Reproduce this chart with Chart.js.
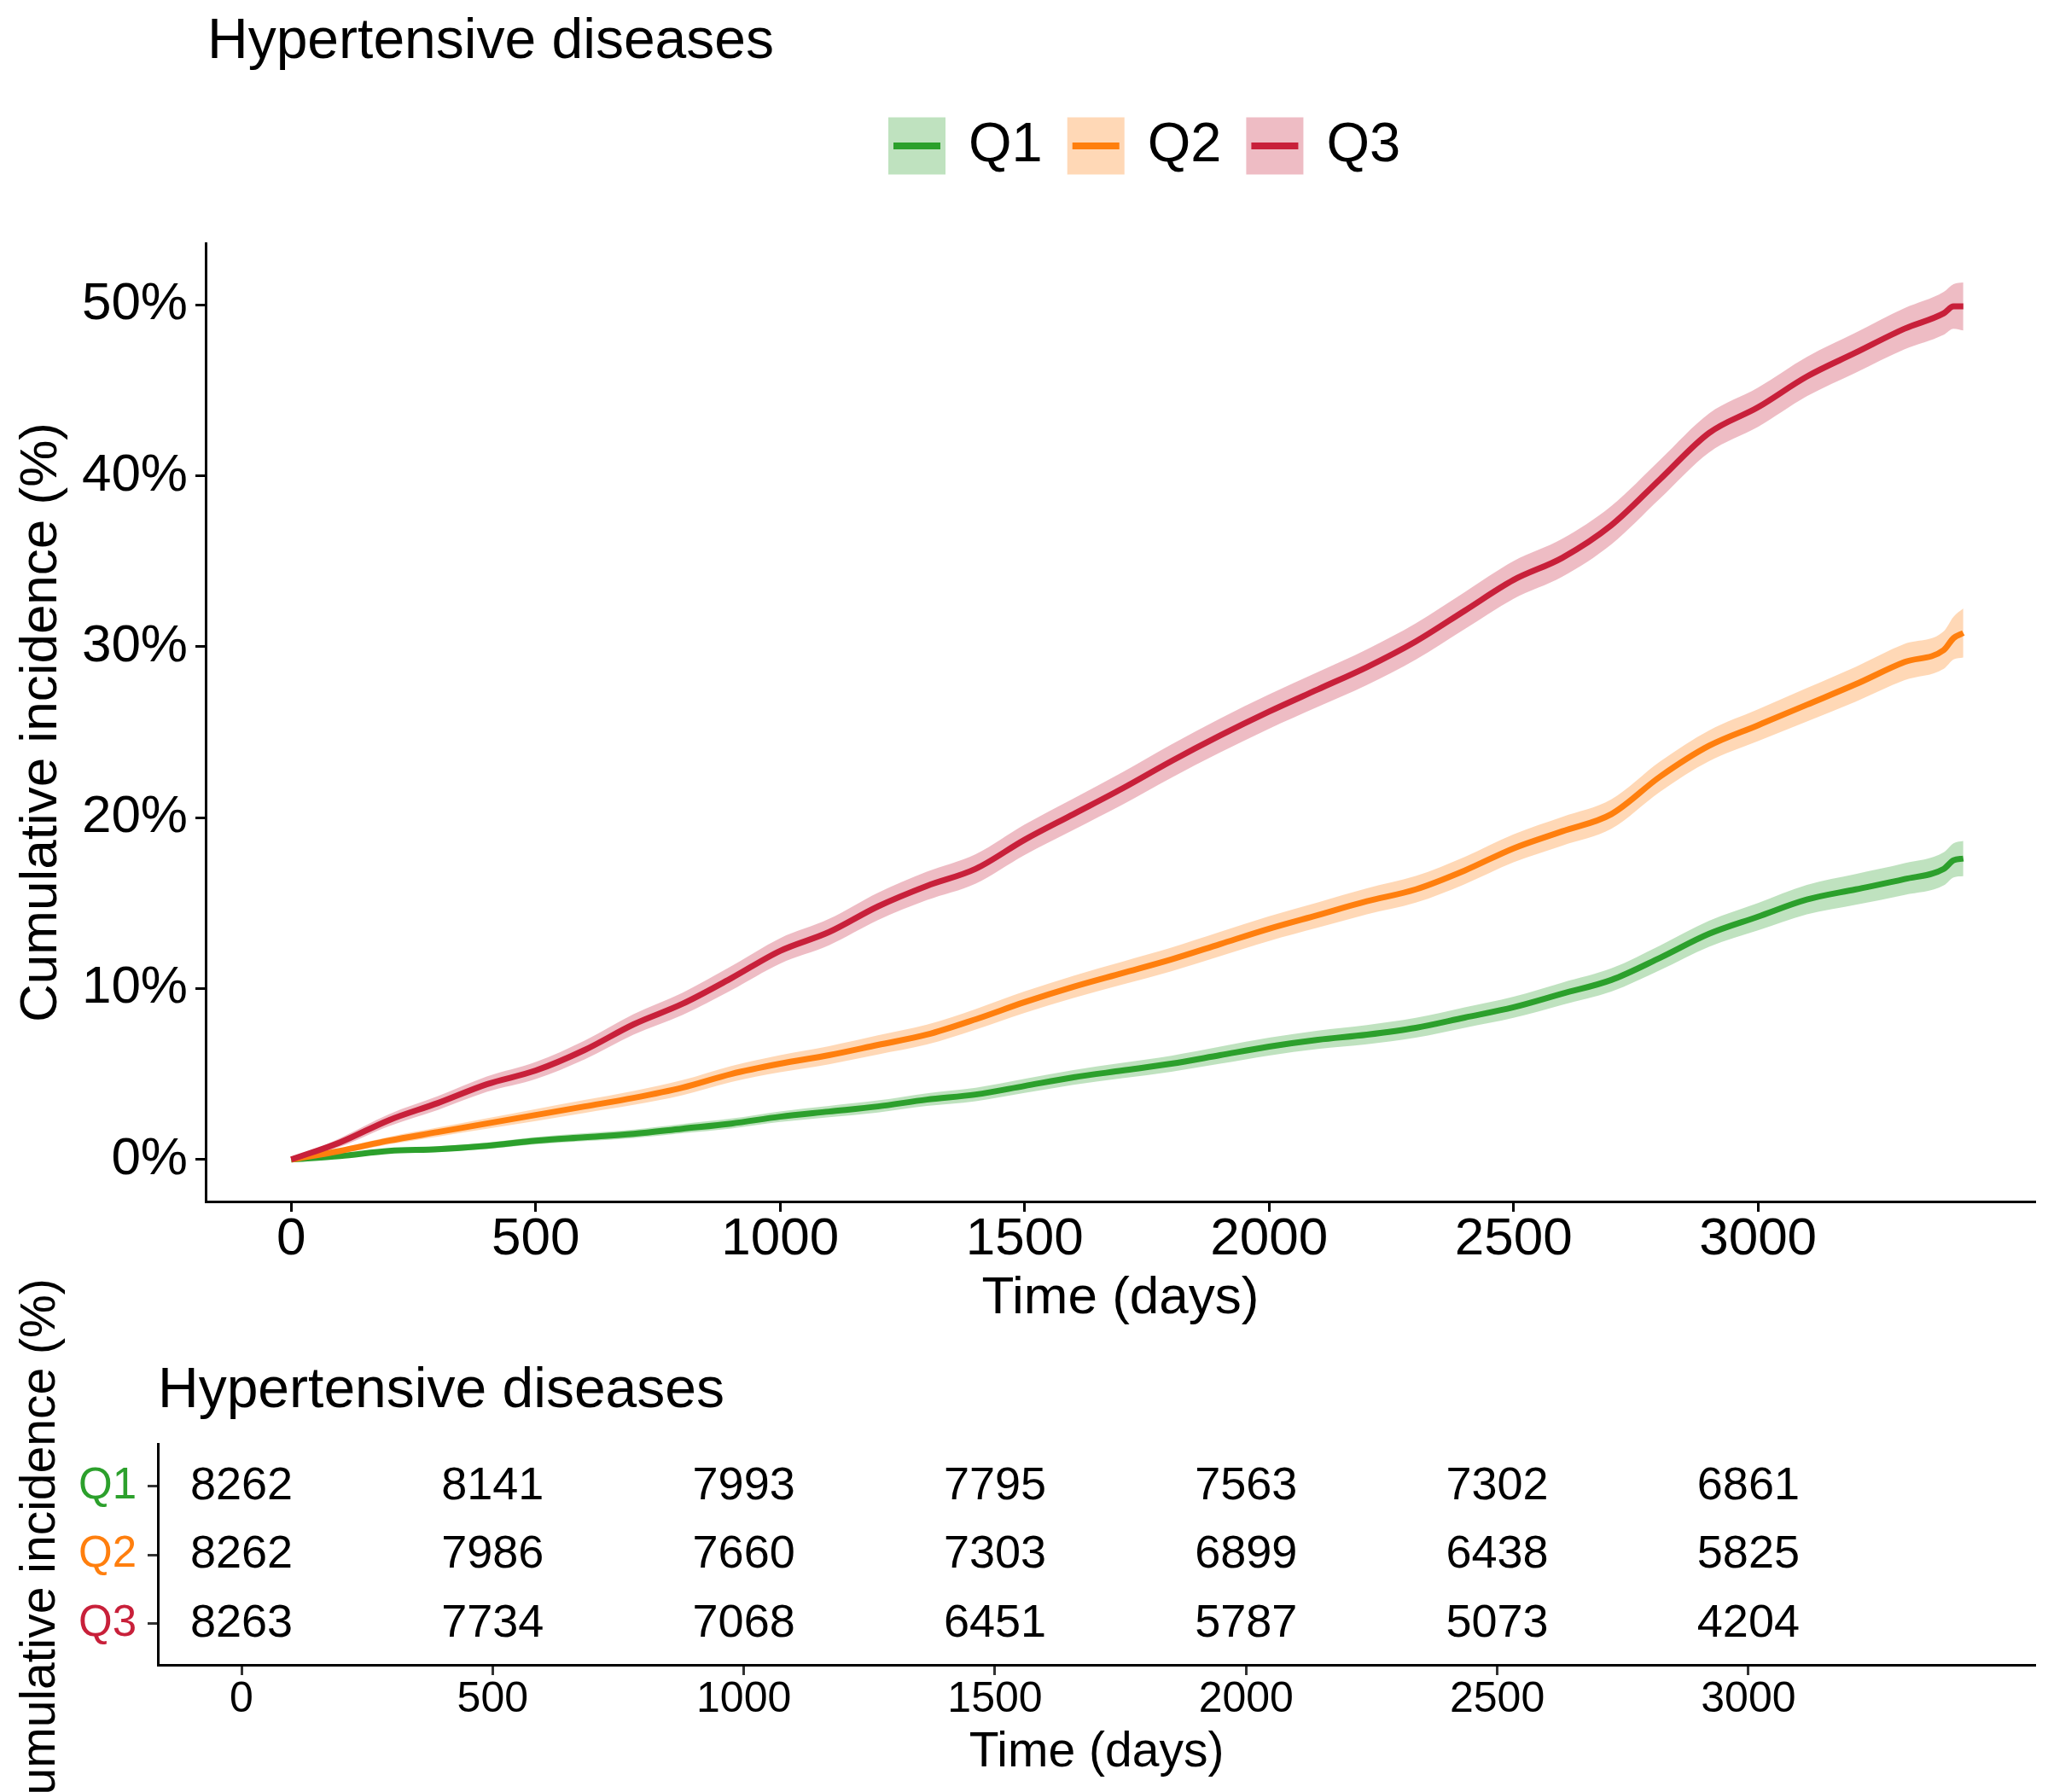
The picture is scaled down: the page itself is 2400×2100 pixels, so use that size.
<!DOCTYPE html>
<html>
<head>
<meta charset="utf-8">
<script src="https://cdn.jsdelivr.net/npm/chart.js@4.4.1/dist/chart.umd.min.js"></script>
<style>
  body { margin: 0; background: #fff; }
  #wrap { position: relative; width: 2400px; height: 2100px; background: #fff; }
  canvas { position: absolute; left: 0; }
  #main { top: 0; }
  #risk { top: 1470px; }
</style>
</head>
<body>
<div id="wrap">
  <canvas id="main" width="2400" height="1560"></canvas>
  <canvas id="risk" width="2400" height="630"></canvas>
</div>
<script>
// data
const groups = ["Q1", "Q2", "Q3"];
const colors = ["#2ca02c", "#ff7f0e", "#c8203a"];
const bandColors = ["rgba(44,160,44,0.3)", "rgba(255,127,14,0.3)", "rgba(200,32,58,0.3)"];

const days = [0, 100, 200, 300, 400, 500, 600, 700, 800, 900, 1000, 1100, 1200, 1300, 1400, 1500, 1600,
  1700, 1800, 1900, 2000, 2100, 2200, 2300, 2400, 2500, 2600, 2700, 2800, 2900, 3000, 3100, 3200, 3300, 3380, 3400, 3420];

const q1 = [0, 0.2, 0.5, 0.6, 0.8, 1.1, 1.3, 1.5, 1.8, 2.1, 2.5, 2.8, 3.1, 3.5, 3.8, 4.3, 4.8,
  5.2, 5.6, 6.1, 6.6, 7.0, 7.3, 7.7, 8.3, 8.9, 9.7, 10.5, 11.8, 13.2, 14.2, 15.2, 15.8, 16.4, 17.0, 17.5, 17.6];
const q2 = [0, 0.5, 1.1, 1.6, 2.1, 2.6, 3.1, 3.6, 4.2, 5.0, 5.6, 6.1, 6.7, 7.3, 8.2, 9.2, 10.1,
  10.9, 11.7, 12.6, 13.5, 14.3, 15.1, 15.8, 16.9, 18.2, 19.2, 20.2, 22.4, 24.2, 25.4, 26.6, 27.8, 29.1, 29.8, 30.5, 30.8];
const q3 = [0, 1.0, 2.3, 3.3, 4.4, 5.2, 6.4, 7.9, 9.1, 10.6, 12.2, 13.3, 14.8, 16.0, 17.0, 18.7, 20.2,
  21.7, 23.3, 24.8, 26.2, 27.5, 28.8, 30.3, 32.1, 33.9, 35.2, 37.1, 39.8, 42.5, 44.0, 45.8, 47.2, 48.6, 49.5, 49.9, 49.9];

// half width of the confidence band
const q1Ci = [0, 0.1, 0.14, 0.17, 0.19, 0.21, 0.23, 0.25, 0.27, 0.29, 0.31, 0.33, 0.35, 0.37, 0.39, 0.41, 0.43,
  0.45, 0.47, 0.5, 0.52, 0.54, 0.56, 0.58, 0.6, 0.62, 0.65, 0.68, 0.72, 0.76, 0.8, 0.86, 0.9, 0.93, 0.97, 1.0, 1.03];
const q2Ci = [0, 0.15, 0.22, 0.27, 0.31, 0.35, 0.38, 0.41, 0.44, 0.47, 0.5, 0.53, 0.56, 0.58, 0.6, 0.63, 0.65,
  0.67, 0.69, 0.71, 0.72, 0.74, 0.76, 0.78, 0.8, 0.82, 0.84, 0.86, 0.88, 0.9, 0.93, 0.98, 1.02, 1.06, 1.1, 1.25, 1.43];
const q3Ci = [0, 0.25, 0.35, 0.4, 0.45, 0.5, 0.55, 0.6, 0.65, 0.7, 0.74, 0.77, 0.8, 0.83, 0.86, 0.89, 0.92,
  0.95, 0.97, 0.99, 1.0, 1.02, 1.04, 1.06, 1.08, 1.1, 1.11, 1.12, 1.13, 1.14, 1.15, 1.15, 1.17, 1.2, 1.25, 1.3, 1.4];

const timeTicks = [0, 500, 1000, 1500, 2000, 2500, 3000];
const pctTicks = [0, 10, 20, 30, 40, 50];

// numbers at risk
const riskQ1 = [8262, 8141, 7993, 7795, 7563, 7302, 6861];
const riskQ2 = [8262, 7986, 7660, 7303, 6899, 6438, 5825];
const riskQ3 = [8263, 7734, 7068, 6451, 5787, 5073, 4204];

const FONT = "'Liberation Sans', Arial, sans-serif";
const series = [q1, q2, q3];
const cis = [q1Ci, q2Ci, q3Ci];
const risks = [riskQ1, riskQ2, riskQ3];

// bands first (drawn underneath), then the lines
const datasets = [];
series.forEach((vals, g) => {
  datasets.push({
    data: days.map((d, i) => ({ x: d, y: vals[i] - cis[g][i] })),
    borderWidth: 0, fill: false, order: 10
  });
  datasets.push({
    data: days.map((d, i) => ({ x: d, y: vals[i] + cis[g][i] })),
    borderWidth: 0, fill: "-1", backgroundColor: bandColors[g], order: 10
  });
});
series.forEach((vals, g) => {
  datasets.push({
    label: groups[g],
    data: days.map((d, i) => ({ x: d, y: vals[i] })),
    borderColor: colors[g], borderWidth: 7, fill: false, order: 2 - g
  });
});

const titlePlugin = {
  id: "plainTitle",
  afterDraw(chart, args, opts) {
    const ctx = chart.ctx;
    ctx.save();
    ctx.fillStyle = "#000";
    ctx.font = `${opts.size}px ${FONT}`;
    ctx.textAlign = "left";
    ctx.textBaseline = "middle";
    ctx.fillText(opts.text, opts.x, opts.y);
    ctx.restore();
  }
};

const legendPlugin = {
  id: "boxLegend",
  afterDraw(chart) {
    const ctx = chart.ctx;
    const box = 67, cy = 171;
    let x = 1041;
    ctx.save();
    ctx.font = `65px ${FONT}`;
    ctx.textBaseline = "middle";
    groups.forEach((g, i) => {
      ctx.fillStyle = bandColors[i];
      ctx.fillRect(x, cy - box / 2, box, box);
      ctx.fillStyle = colors[i];
      ctx.fillRect(x + 6, cy - 4, box - 12, 8);
      x += box + 27;
      ctx.fillStyle = "#000";
      ctx.fillText(g, x, cy);
      x += ctx.measureText(g).width + 29;
    });
    ctx.restore();
  }
};

function axisStyle(extra) {
  return Object.assign({
    grid: { drawOnChartArea: false, drawTicks: true, tickLength: 12, tickWidth: 3, tickColor: "#000" },
    border: { display: true, color: "#000", width: 3 }
  }, extra);
}

new Chart(document.getElementById("main"), {
  type: "line",
  data: { datasets },
  options: {
    responsive: false, animation: false, devicePixelRatio: 1,
    layout: { padding: { top: 285, right: 15, left: 0, bottom: 0 } },
    elements: { point: { radius: 0 }, line: { cubicInterpolationMode: "monotone" } },
    plugins: {
      legend: { display: false }, tooltip: { enabled: false },
      plainTitle: { text: "Hypertensive diseases", x: 243, y: 50, size: 66 }
    },
    scales: {
      x: axisStyle({
        type: "linear", min: -175, max: 3567,
        afterBuildTicks: s => { s.ticks = timeTicks.map(v => ({ value: v })); },
        afterFit: s => { s.height = 152; },
        ticks: { color: "#000", font: { family: FONT, size: 62, lineHeight: 1 }, padding: 2, maxRotation: 0, autoSkip: false, callback: v => String(v) },
        title: { display: true, text: "Time (days)", color: "#000", font: { family: FONT, size: 62, lineHeight: 1.2 }, padding: { top: 0, bottom: 1 } }
      }),
      y: axisStyle({
        type: "linear", min: -2.46, max: 53.6,
        afterBuildTicks: s => { s.ticks = pctTicks.map(v => ({ value: v })); },
        afterFit: s => { s.width = 241; },
        ticks: { color: "#000", font: { family: FONT, size: 62, lineHeight: 1 }, padding: 9, callback: v => v + "%" },
        title: { display: true, text: "Cumulative incidence (%)", color: "#000", font: { family: FONT, size: 62, lineHeight: 1.2 }, padding: { top: 12, bottom: 0 } }
      })
    }
  },
  plugins: [titlePlugin, legendPlugin]
});

const riskLabels = {
  id: "riskLabels",
  afterDatasetsDraw(chart) {
    const ctx = chart.ctx;
    ctx.save();
    ctx.fillStyle = "#000";
    ctx.font = `54px ${FONT}`;
    ctx.textAlign = "center";
    ctx.textBaseline = "middle";
    chart.data.datasets.forEach((ds, d) => {
      chart.getDatasetMeta(d).data.forEach((pt, i) => {
        ctx.fillText(String(ds.data[i].n), pt.x, pt.y);
      });
    });
    ctx.restore();
  }
};

new Chart(document.getElementById("risk"), {
  type: "scatter",
  data: {
    datasets: groups.map((g, r) => ({
      label: g,
      data: timeTicks.map((t, i) => ({ x: t, y: r + 1, n: risks[r][i] })),
      pointRadius: 0
    }))
  },
  options: {
    responsive: false, animation: false, devicePixelRatio: 1,
    layout: { padding: { top: 222, right: 15, left: 0, bottom: 0 } },
    plugins: {
      legend: { display: false }, tooltip: { enabled: false },
      plainTitle: { text: "Hypertensive diseases", x: 185, y: 161, size: 66 }
    },
    scales: {
      x: axisStyle({
        type: "linear", min: -166.5, max: 3571,
        afterBuildTicks: s => { s.ticks = timeTicks.map(v => ({ value: v })); },
        afterFit: s => { s.height = 149; },
        grid: { drawOnChartArea: false, drawTicks: true, tickLength: 12, tickWidth: 3, tickColor: "#333" },
        ticks: { color: "#000", font: { family: FONT, size: 50, lineHeight: 1 }, padding: 4, maxRotation: 0, autoSkip: false, callback: v => String(v) },
        title: { display: true, text: "Time (days)", color: "#000", font: { family: FONT, size: 57, lineHeight: 1.2 }, padding: { top: 0, bottom: 12 } }
      }),
      y: axisStyle({
        type: "linear", reverse: true, min: 0.38, max: 3.6,
        afterBuildTicks: s => { s.ticks = groups.map((g, i) => ({ value: i + 1 })); },
        afterFit: s => { s.width = 185; },
        grid: { drawOnChartArea: false, drawTicks: true, tickLength: 12, tickWidth: 3, tickColor: "#333" },
        ticks: { color: c => colors[c.index], font: { family: FONT, size: 51, lineHeight: 1 }, padding: 13, callback: v => groups[v - 1] },
        title: { display: true, text: "Cumulative incidence (%)", color: "#000", font: { family: FONT, size: 57, lineHeight: 1.2 }, padding: { top: 14, bottom: 0 } }
      })
    }
  },
  plugins: [titlePlugin, riskLabels]
});
</script>
</body>
</html>
